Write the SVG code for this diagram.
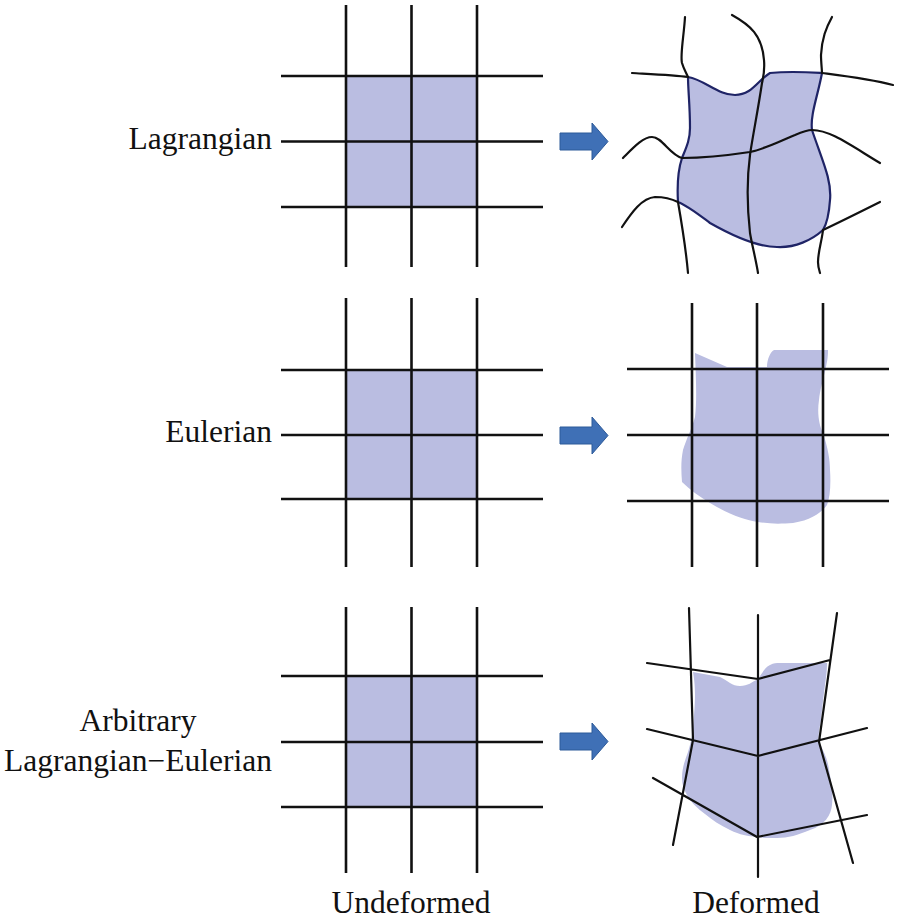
<svg xmlns="http://www.w3.org/2000/svg" width="899" height="919" viewBox="0 0 899 919">
<style>
.g{stroke:#111;stroke-width:2.6;fill:none}
.gd{stroke:#111;stroke-width:2.2;fill:none;stroke-linejoin:round;stroke-linecap:round}
.sq{fill:#babde1;stroke:#1f2466;stroke-width:2}
.blob{fill:#babde1;stroke:none}
.shape{fill:#babde1;stroke:#1f2466;stroke-width:2.2;stroke-linejoin:round}
.lbl{font-family:"Liberation Serif",serif;font-size:31.5px;fill:#111}
.arr{fill:#3f70b6;stroke:#2d5a99;stroke-width:1}
</style>
<rect width="899" height="919" fill="#fff"/>

<g id="labels">
<text class="lbl" x="272" y="149" text-anchor="end">Lagrangian</text>
<text class="lbl" x="272" y="442" text-anchor="end">Eulerian</text>
<text class="lbl" x="138" y="731" text-anchor="middle">Arbitrary</text>
<text class="lbl" x="138" y="771" text-anchor="middle">Lagrangian−Eulerian</text>
<text class="lbl" x="411" y="913" text-anchor="middle">Undeformed</text>
<text class="lbl" x="756" y="913" text-anchor="middle">Deformed</text>
</g>

<g id="lag-undeformed">
<rect class="sq" x="346" y="76" width="131" height="131"/>
<path class="g" d="M346 5V267M411.5 5V267M477 5V267M281 76H543M281 141.5H543M281 207H543"/>
</g>

<g id="eul-undeformed">
<rect class="sq" x="346" y="370" width="131" height="129"/>
<path class="g" d="M346 298V567M411.5 298V567M477 298V567M281 370H543M281 435H543M281 499H543"/>
</g>

<g id="ale-undeformed">
<rect class="sq" x="346" y="676" width="131" height="131"/>
<path class="g" d="M346 607V873M411.5 607V873M477 607V873M281 676H543M281 742H543M281 807H543"/>
</g>

<g id="arrows">
<polygon class="arr" points="560,133 592,133 592,123 608,141.5 592,160 592,150 560,150"/>
<polygon class="arr" points="560,427 592,427 592,417 608,435.5 592,454 592,444 560,444"/>
<polygon class="arr" points="560,733 592,733 592,723 608,741.5 592,760 592,750 560,750"/>
</g>

<g id="lag-deformed">
<path class="shape" d="M688 77 C705 80 718 95 735 95 C752 95 758 80 770 73 C790 71 805 72 822 73 C818 95 810 115 812 130 C822 160 832 180 830 200 C829 215 826 225 823 230 C812 240 795 248 777 247 C760 247 740 240 710 223 C698 214 688 206 678 202 C677 185 678 170 682 158 C686 148 690 140 690 128 C690 105 688 90 688 77 Z"/>
<path class="gd" d="M685 17 C684 35 680 55 682 63 C684 70 687 74 688 77"/>
<path class="gd" d="M678 202 C682 225 686 250 688 273"/>
<path class="gd" d="M732 15 C750 25 762 35 764 60 C765 72 763 78 762 83 C758 110 752 140 750 155 C746 185 748 215 750 233 C752 245 756 260 758 273"/>
<path class="gd" d="M832 17 C826 28 822 38 821 55 C821 62 822 70 822 73"/>
<path class="gd" d="M823 230 C822 240 818 252 818 262 C818 267 819 270 820 273"/>
<path class="gd" d="M632 73 C650 74 675 75 688 77"/>
<path class="gd" d="M822 73 C845 76 870 79 893 85"/>
<path class="gd" d="M623 158 C633 148 643 137 652 137 C662 137 670 155 682 158 C705 158 730 155 750 152 C765 149 780 141 795 135 C802 132 808 130 812 130 C830 130 850 145 880 163"/>
<path class="gd" d="M622 227 C632 212 642 198 655 197 C665 197 672 199 678 202"/>
<path class="gd" d="M823 230 C840 222 860 212 880 202"/>
</g>

<g id="eul-deformed">
<path class="blob" d="M695 353 L727 367 L767 367 C767 360 770 352 774 350 L828 350 C828 358 827 362 826 367 C823 380 820 390 819 400 C817 413 819 425 823 433 C828 448 830 460 830 470 C831 485 830 497 827 505 C822 512 812 520 793 523 C780 524 770 524 758 522 C745 520 730 515 710 503 C700 497 690 490 682 482 C681 470 681 460 683 450 C686 440 692 428 695 417 C697 400 696 380 695 353 Z"/>
<path class="g" d="M692 303V567M757 303V567M823 303V567M627 369H889M627 435H889M627 501H889"/>
</g>

<g id="ale-deformed">
<path class="blob" d="M693 672 L720 677 C728 681 732 686 740 686 C748 686 752 682 758 679 C762 674 764 668 770 665 C774 663 776 663 780 663 L827 663 C827 672 826 678 825 685 C823 700 822 710 821 720 C819 730 818 738 819 742 C824 752 828 760 829 770 C832 785 833 795 832 805 C831 815 825 825 810 830 C798 835 788 838 777 838 C768 838 762 838 757 837 C748 836 740 835 730 830 C720 825 712 820 705 814 C697 808 692 803 688 797 C684 790 682 785 682 778 C682 768 685 760 688 752 C690 745 692 738 693 730 C694 715 695 705 695 695 C695 685 694 678 693 672 Z"/>
<path class="gd" d="M689 608L693 740L673 845M758 615V877M837 613L819 742L853 863M647 663L758 679L830 660M647 729L758 756L867 728M653 778L757 837L867 815"/>
</g>
</svg>
